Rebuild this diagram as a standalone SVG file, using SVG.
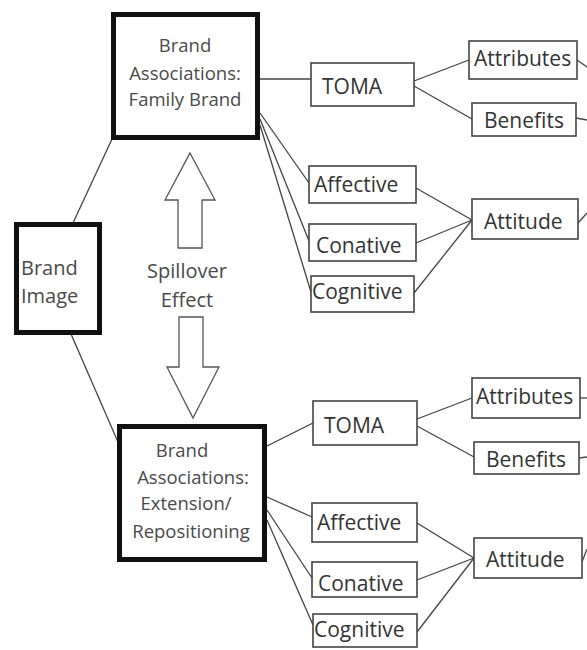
<svg xmlns="http://www.w3.org/2000/svg" width="587" height="650" viewBox="0 0 587 650">
  <style>
    .main rect { fill: #fff; stroke: #111; stroke-width: 5; }
    .leaf rect { fill: #fff; stroke: #444; stroke-width: 1.6; }
    .main text { font-family: "Open Sans", "Liberation Sans", sans-serif; font-size: 18.5px; fill: #4a4a4a; text-anchor: middle; }
    .leaf text { font-family: "Open Sans", "Liberation Sans", sans-serif; font-size: 21px; fill: #333; }
    .lbl { font-family: "Open Sans", "Liberation Sans", sans-serif; font-size: 20px; fill: #4a4a4a; text-anchor: middle; }
    .conn line { stroke: #444; stroke-width: 1.3; }
    .arrow { fill: #fff; stroke: #555; stroke-width: 1.3; }
  </style>
  <rect width="587" height="650" fill="#fff"/>

  <g class="conn" id="connectors">
    <!-- brand image to the two association boxes -->
    <line x1="112" y1="139" x2="73" y2="223"/>
    <line x1="71" y1="334" x2="118" y2="442"/>
    <!-- family brand branch -->
    <line x1="260" y1="79" x2="311" y2="79"/>
    <line x1="260" y1="113" x2="309" y2="183"/>
    <line x1="260" y1="119" x2="309" y2="241"/>
    <line x1="260" y1="125" x2="311" y2="292"/>
    <line x1="414" y1="81" x2="469" y2="60"/>
    <line x1="414" y1="86" x2="472" y2="119"/>
    <line x1="416" y1="188" x2="472" y2="220"/>
    <line x1="416" y1="243" x2="472" y2="220"/>
    <line x1="414" y1="293" x2="472" y2="220"/>
    <line x1="577" y1="60" x2="587" y2="67"/>
    <line x1="576" y1="118" x2="587" y2="120"/>
    <line x1="578" y1="223" x2="587" y2="213"/>
    <!-- extension branch -->
    <line x1="267" y1="446" x2="313" y2="423"/>
    <line x1="267" y1="497" x2="312" y2="517"/>
    <line x1="267" y1="510" x2="312" y2="578"/>
    <line x1="267" y1="520" x2="313" y2="625"/>
    <line x1="417" y1="419" x2="472" y2="398"/>
    <line x1="417" y1="426" x2="474" y2="457"/>
    <line x1="417" y1="523" x2="474" y2="558"/>
    <line x1="417" y1="580" x2="474" y2="558"/>
    <line x1="417" y1="632" x2="474" y2="558"/>
    <line x1="580" y1="398" x2="587" y2="398"/>
    <line x1="579" y1="458" x2="587" y2="457"/>
    <line x1="582" y1="562" x2="587" y2="549"/>
  </g>

  <!-- spillover arrows -->
  <g id="spillover">
    <polygon class="arrow" points="190,153 215,200 202,200 202,248 178,248 178,200 165,200"/>
    <polygon class="arrow" points="193,418 219,367 203,367 203,317 179,317 179,367 167,367"/>
    <text class="lbl" x="187" y="278">Spillover</text>
    <text class="lbl" x="187" y="307">Effect</text>
  </g>

  <g class="main" id="brand-image">
    <rect x="16.5" y="224.5" width="83" height="108"/>
    <text x="21" y="275" style="text-anchor:start;font-size:20px">Brand</text>
    <text x="21" y="303" style="text-anchor:start;font-size:20px">Image</text>
  </g>

  <g class="main" id="family-brand">
    <rect x="113.5" y="14.5" width="144" height="123"/>
    <text x="185" y="52">Brand</text>
    <text x="185" y="80">Associations:</text>
    <text x="185" y="106">Family Brand</text>
  </g>

  <g class="main" id="extension">
    <rect x="119.5" y="426.5" width="145" height="133"/>
    <text x="182" y="457">Brand</text>
    <text x="193" y="484">Associations:</text>
    <text x="186" y="510">Extension/</text>
    <text x="191" y="538">Repositioning</text>
  </g>

  <!-- family brand leaves -->
  <g class="leaf" id="toma-1"><rect x="311" y="63" width="103" height="43"/><text x="322" y="94">TOMA</text></g>
  <g class="leaf" id="attributes-1"><rect x="469" y="41" width="108" height="38"/><text x="474" y="66">Attributes</text></g>
  <g class="leaf" id="benefits-1"><rect x="472" y="103" width="104" height="33"/><text x="484" y="128">Benefits</text></g>
  <g class="leaf" id="affective-1"><rect x="309" y="166" width="107" height="37"/><text x="314" y="192">Affective</text></g>
  <g class="leaf" id="conative-1"><rect x="309" y="224" width="107" height="37"/><text x="316" y="253">Conative</text></g>
  <g class="leaf" id="cognitive-1"><rect x="311" y="276" width="103" height="36"/><text x="312" y="299">Cognitive</text></g>
  <g class="leaf" id="attitude-1"><rect x="472" y="199" width="106" height="40"/><text x="484" y="229">Attitude</text></g>

  <!-- extension leaves -->
  <g class="leaf" id="toma-2"><rect x="313" y="401" width="104" height="44"/><text x="324" y="433">TOMA</text></g>
  <g class="leaf" id="attributes-2"><rect x="472" y="378" width="108" height="40"/><text x="476" y="404">Attributes</text></g>
  <g class="leaf" id="benefits-2"><rect x="474" y="442" width="105" height="32"/><text x="486" y="467">Benefits</text></g>
  <g class="leaf" id="affective-2"><rect x="312" y="503" width="105" height="39"/><text x="317" y="530">Affective</text></g>
  <g class="leaf" id="conative-2"><rect x="312" y="562" width="105" height="35"/><text x="318" y="591">Conative</text></g>
  <g class="leaf" id="cognitive-2"><rect x="313" y="614" width="104" height="33"/><text x="314" y="637">Cognitive</text></g>
  <g class="leaf" id="attitude-2"><rect x="474" y="538" width="108" height="40"/><text x="486" y="567">Attitude</text></g>
</svg>
